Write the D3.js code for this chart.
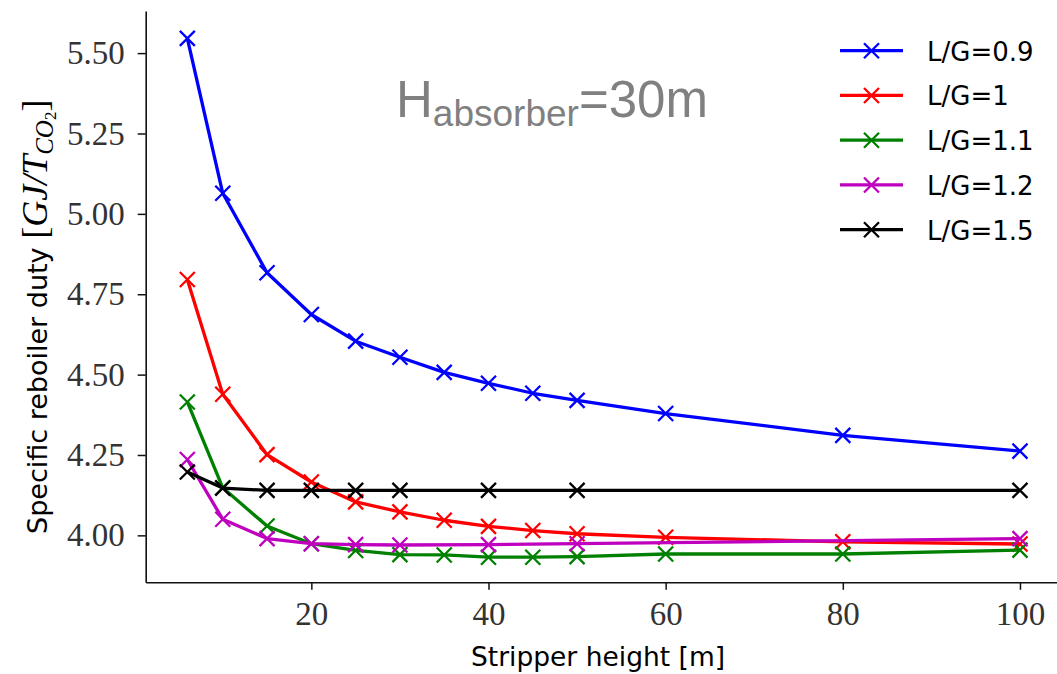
<!DOCTYPE html>
<html><head><meta charset="utf-8">
<script src="https://cdn.jsdelivr.net/npm/d3@7"></script>
<style>body{margin:0;background:#fff} svg{display:block}</style>
</head><body>
<svg id="chart" width="1057" height="674"></svg>
<script>
// ---- data ----
const heightsA = [6, 10, 15, 20, 25, 30, 35, 40, 45, 50, 60, 80, 100];
const heightsB = [6, 10, 15, 20, 25, 30, 40, 50, 100];
const lg09 = [5.546, 5.064, 4.817, 4.687, 4.604, 4.554, 4.507, 4.473, 4.442, 4.420, 4.379, 4.311, 4.262];
const lg10 = [4.796, 4.439, 4.251, 4.166, 4.104, 4.073, 4.047, 4.028, 4.015, 4.005, 3.994, 3.980, 3.973];
const lg11 = [4.415, 4.148, 4.029, 3.974, 3.953, 3.940, 3.939, 3.932, 3.932, 3.934, 3.942, 3.942, 3.954];
const lg12 = [4.236, 4.050, 3.990, 3.974, 3.971, 3.970, 3.971, 3.974, 3.990];
const lg15 = [4.197, 4.147, 4.140, 4.140, 4.140, 4.140, 4.140, 4.140, 4.140];
const seriesNames = ["L/G=0.9", "L/G=1", "L/G=1.1", "L/G=1.2", "L/G=1.5"];
const seriesColors = ["#0000ff", "#ff0000", "#008000", "#bf00bf", "#000000"];
const xTicks = [20, 40, 60, 80, 100];
const yTicks = [4.00, 4.25, 4.50, 4.75, 5.00, 5.25, 5.50];

const series = [
  {name: seriesNames[0], color: seriesColors[0], xs: heightsA, ys: lg09},
  {name: seriesNames[1], color: seriesColors[1], xs: heightsA, ys: lg10},
  {name: seriesNames[2], color: seriesColors[2], xs: heightsA, ys: lg11},
  {name: seriesNames[3], color: seriesColors[3], xs: heightsB, ys: lg12},
  {name: seriesNames[4], color: seriesColors[4], xs: heightsB, ys: lg15}
];

const svg = d3.select('#chart');
svg.append('rect').attr('width', 1057).attr('height', 674).attr('fill', '#fff');

const x = d3.scaleLinear().domain([1.3, 104.7]).range([145.7, 1061.6]);
const y = d3.scaleLinear().domain([3.854, 5.631]).range([582.3, 11]);

const serif = "'Liberation Serif', 'DejaVu Serif', serif";
const sans = "'DejaVu Sans', sans-serif";

// axes
const gx = svg.append('g').attr('transform', `translate(0,${y.range()[0]})`)
  .call(d3.axisBottom(x).tickValues(xTicks).tickFormat(d3.format('d')).tickSize(7.5).tickSizeOuter(0).tickPadding(12));
const gy = svg.append('g').attr('transform', `translate(${x.range()[0]},0)`)
  .call(d3.axisLeft(y).tickValues(yTicks).tickFormat(d3.format('.2f')).tickSize(8).tickSizeOuter(0).tickPadding(13));
[gx, gy].forEach(g => {
  g.select('.domain').attr('stroke', '#111').attr('stroke-width', 1.6);
  g.selectAll('.tick line').attr('stroke', '#111').attr('stroke-width', 1.5);
  g.selectAll('.tick text').attr('font-family', serif).attr('font-size', 33).attr('fill', '#333');
});

// lines & markers
const markerPath = (s) => `M${-s},${-s}L${s},${s}M${-s},${s}L${s},${-s}`;
series.forEach(s => {
  const pts = s.xs.map((v, i) => [v, s.ys[i]]);
  svg.append('path').datum(pts)
    .attr('fill', 'none').attr('stroke', s.color).attr('stroke-width', 3.3)
    .attr('stroke-linejoin', 'round')
    .attr('d', d3.line().x(d => x(d[0])).y(d => y(d[1])));
  svg.append('g').selectAll('path').data(pts).join('path')
    .attr('transform', d => `translate(${x(d[0])},${y(d[1])})`)
    .attr('d', markerPath(7.5))
    .attr('stroke', s.color).attr('stroke-width', 2.3).attr('fill', 'none');
});

// legend
const leg = svg.append('g');
series.forEach((s, i) => {
  const ly = 50.7 + i * 44.75;
  leg.append('line').attr('x1', 840).attr('x2', 903).attr('y1', ly).attr('y2', ly)
    .attr('stroke', s.color).attr('stroke-width', 3.3);
  leg.append('path').attr('transform', `translate(871.5,${ly})`).attr('d', markerPath(7.5))
    .attr('stroke', s.color).attr('stroke-width', 2.3).attr('fill', 'none');
  leg.append('text').attr('x', 927).attr('y', ly + 10).attr('font-family', sans)
    .attr('font-size', 26).attr('fill', '#000').text(s.name);
});

// axis labels
svg.append('text').attr('x', 598).attr('y', 666).attr('text-anchor', 'middle')
  .attr('font-family', sans).attr('font-size', 26.5).attr('fill', '#000')
  .text('Stripper height [m]');

const yl = svg.append('text').attr('transform', 'translate(47,534) rotate(-90)')
  .attr('text-anchor', 'start').attr('font-size', 27).attr('fill', '#000')
  .attr('font-family', sans);
yl.append('tspan').text('Specific reboiler duty ');
yl.append('tspan').attr('font-family', serif).attr('font-size', 36).text('[');
yl.append('tspan').attr('font-family', serif).attr('font-style', 'italic').attr('font-size', 36).text('GJ/T');
yl.append('tspan').attr('font-family', serif).attr('font-style', 'italic').attr('font-size', 25).attr('dy', 6).text('CO');
yl.append('tspan').attr('font-family', serif).attr('font-size', 17).attr('dy', 3).text('2');
yl.append('tspan').attr('font-family', serif).attr('font-size', 36).attr('dy', -9).text(']');

// annotation
const ann = svg.append('text').attr('x', 396).attr('y', 117)
  .attr('font-family', "'Liberation Sans', Arial, sans-serif").attr('fill', '#808080')
  .attr('font-size', 51);
ann.append('tspan').text('H');
ann.append('tspan').attr('font-size', 37).attr('dy', 9).text('absorber');
ann.append('tspan').attr('dy', -9).text('=30m');
</script>
</body></html>
